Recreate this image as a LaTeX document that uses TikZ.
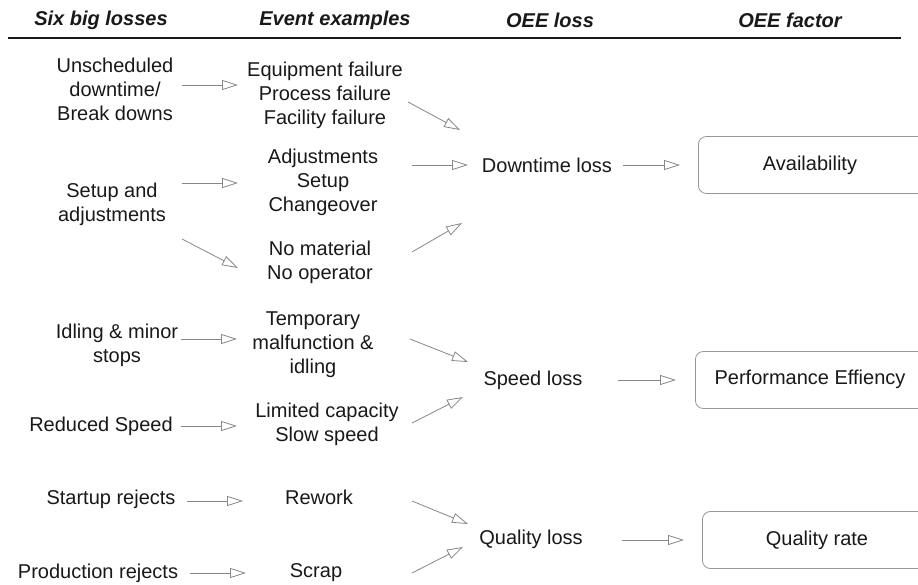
\documentclass[tikz,border=0pt]{standalone}
\usepackage{fontspec}
\setmainfont{Liberation Sans}
\usetikzlibrary{arrows.meta}
\definecolor{txt}{RGB}{25,25,25}
\definecolor{arr}{RGB}{135,135,135}
\definecolor{boxc}{RGB}{150,150,150}
\begin{document}
\begin{tikzpicture}[x=1pt,y=-1pt,
  lbl/.style={inner sep=0pt,align=center,text=txt,font=\fontsize{20}{24}\selectfont},
  hdr/.style={inner sep=0pt,text=txt,font=\fontsize{20}{24}\selectfont\bfseries\itshape},
  conn/.style={draw=arr,line width=0.8pt,-{Triangle[open,length=16pt,width=10pt]}},
  factorbox/.style={draw=boxc,line width=0.8pt,rounded corners=8pt,minimum width=280pt,minimum height=57pt,inner sep=0pt,anchor=west},
  rule/.style={draw=txt,line width=1.1pt}
]
\useasboundingbox (0,0) rectangle (918,584);
\clip (0,0) rectangle (918,584);
\fill[white] (0,0) rectangle (918,584);
% headers
\node[hdr] (h1) at (101,20) {Six big losses};
\node[hdr] (h2) at (335,20) {Event examples};
\node[hdr] (h3) at (550,20) {OEE loss};
\node[hdr] (h4) at (790,20) {OEE factor};
\coordinate (ruleL) at (8,38);
\coordinate (ruleR) at (901,38);
\draw[rule] (ruleL) -- (ruleR);
% six big losses
\node[lbl] (l1) at (115,89) {Unscheduled\\downtime/\\Break downs};
\node[lbl] (l2) at (112,204) {Setup and\\adjustments};
\node[lbl] (l3) at (117,345) {Idling \& minor\\stops};
\node[lbl] (l4) at (101,426) {Reduced Speed};
\node[lbl] (l5) at (111,499) {Startup rejects};
\node[lbl] (l6) at (98,573) {Production rejects};
% event examples
\node[lbl] (e1) at (325,95) {Equipment failure\\Process failure\\Facility failure};
\node[lbl] (e2) at (323,182) {Adjustments\\Setup\\Changeover};
\node[lbl] (e3) at (320,262) {No material\\No operator};
\node[lbl] (e4) at (313,345) {Temporary\\malfunction \&\\idling};
\node[lbl] (e5) at (327,424) {Limited capacity\\Slow speed};
\node[lbl] (e6) at (319,497) {Rework};
\node[lbl] (e7) at (316,573) {Scrap};
% OEE loss
\node[lbl] (o1) at (547,165) {Downtime loss};
\node[lbl] (o2) at (533,380) {Speed loss};
\node[lbl] (o3) at (531,539) {Quality loss};
% OEE factor boxes
\node[factorbox] (f1) at (698,165) {};
\node[factorbox] (f2) at (695,380) {};
\node[factorbox] (f3) at (702,540) {};
\node[lbl] (t1) at (810,165) {Availability};
\node[lbl] (t2) at (810,379) {Performance Effiency};
\node[lbl] (t3) at (817,540) {Quality rate};
% connectors
\draw[conn] ([shift={(67,-4)}]l1.center) -- ([shift={(-87,-10)}]e1.center);
\draw[conn] ([shift={(83,7)}]e1.center) -- ([shift={(-87,-35)}]o1.center);
\draw[conn] ([shift={(70,-21)}]l2.center) -- ([shift={(-85,1)}]e2.center);
\draw[conn] ([shift={(89,-17)}]e2.center) -- ([shift={(-79,0)}]o1.center);
\draw[conn] ([shift={(70,35)}]l2.center) -- ([shift={(-82,6)}]e3.center);
\draw[conn] ([shift={(92,-10)}]e3.center) -- ([shift={(-85,58)}]o1.center);
\draw[conn] ([shift={(76,0)}]o1.center) -- ([shift={(-18,0)}]f1.west);
\draw[conn] ([shift={(64,-6)}]l3.center) -- ([shift={(-76,-6)}]e4.center);
\draw[conn] ([shift={(97,-6)}]e4.center) -- ([shift={(-65,-18)}]o2.center);
\draw[conn] ([shift={(80,0)}]l4.center) -- ([shift={(-90,2)}]e5.center);
\draw[conn] ([shift={(85,-1)}]e5.center) -- ([shift={(-70,17)}]o2.center);
\draw[conn] ([shift={(85,0)}]o2.center) -- ([shift={(-19,0)}]f2.west);
\draw[conn] ([shift={(76,2)}]l5.center) -- ([shift={(-76,4)}]e6.center);
\draw[conn] ([shift={(93,4)}]e6.center) -- ([shift={(-63,-15)}]o3.center);
\draw[conn] ([shift={(92,0)}]l6.center) -- ([shift={(-70,0)}]e7.center);
\draw[conn] ([shift={(96,0)}]e7.center) -- ([shift={(-68,8)}]o3.center);
\draw[conn] ([shift={(91,1)}]o3.center) -- ([shift={(-18,0)}]f3.west);
\end{tikzpicture}
\end{document}
